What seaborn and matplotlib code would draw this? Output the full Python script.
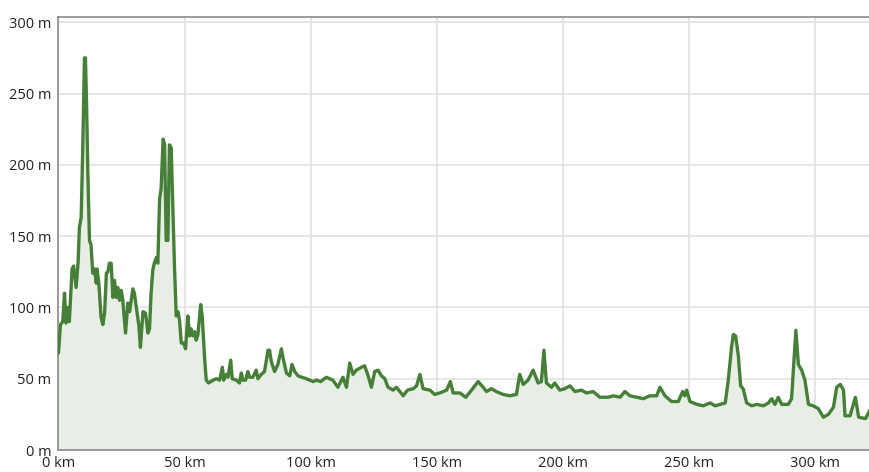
import matplotlib
matplotlib.use("Agg")
import matplotlib.pyplot as plt
from matplotlib.ticker import FuncFormatter
import pandas as pd
import seaborn as sns

## elevation profile
distance_km = [0, 0.8, 1.7, 2.4, 3.0, 3.7, 4.3, 5.4, 6.0, 7.0, 7.8, 8.3, 9.0, 9.7, 10.3, 10.7,
               11.2, 11.6, 12.3, 12.9, 13.6, 14.3, 15.0, 15.3, 16.0, 16.9, 17.6, 18.3, 19.0, 19.6,
               20.2, 20.9, 21.6, 22.2, 22.9, 23.5, 24.2, 24.9, 25.5, 26.6, 27.5, 28.2, 29.5, 30.1,
               30.8, 31.9, 32.5, 33.5, 34.5, 35.5, 36.1, 36.7, 37.4, 38.0, 38.8, 39.4, 40.1, 40.7,
               41.5, 42.1, 42.7, 43.4, 44.0, 44.7, 45.4, 46.0, 46.7, 47.4, 48.0, 48.7, 49.6, 50.4,
               51.3, 52.0, 52.6, 53.3, 54.0, 54.6, 55.3, 56.4, 57.0, 58.0, 58.6, 59.5, 61.3, 62.6,
               63.9, 65.0, 65.5, 66.5, 67.2, 68.3, 68.9, 70.5, 71.8, 72.5, 73.1, 74.2, 75.1, 75.8,
               77.1, 78.4, 79.1, 80.4, 81.7, 83.1, 83.7, 84.4, 85.7, 87.0, 88.4, 89.0, 90.4, 91.7,
               92.6, 93.7, 95.0, 96.5, 98.3, 101.0, 102.3, 104.0, 106.2, 108.8, 110.8, 112.8, 114.2,
               115.5, 116.8, 118.1, 120.1, 121.4, 122.8, 124.1, 125.4, 126.7, 128.1, 129.4, 130.7,
               132.7, 134.0, 135.4, 136.7, 138.4, 140.7, 142.0, 143.3, 144.6, 147.3, 149.2, 151.2,
               153.9, 155.4, 156.5, 159.2, 161.5, 163.8, 166.4, 168.4, 169.7, 171.7, 173.6, 176.3,
               179.0, 181.6, 182.9, 184.3, 186.2, 188.2, 190.2, 191.5, 192.5, 193.5, 195.5, 196.8,
               198.8, 200.8, 202.8, 204.8, 207.4, 209.4, 212.0, 214.7, 218.0, 220.0, 222.7, 224.6,
               226.6, 229.2, 231.9, 234.5, 237.2, 238.5, 240.5, 243.1, 245.8, 247.5, 248.3, 249.1,
               250.4, 253.1, 255.7, 258.4, 260.4, 262.4, 264.4, 265.6, 266.9, 267.6, 268.5, 269.6,
               270.5, 271.5, 272.9, 274.9, 276.9, 279.5, 281.5, 282.8, 284.1, 285.4, 286.8, 289.4,
               290.7, 292.4, 293.4, 294.7, 296.0, 297.4, 299.3, 301.3, 303.3, 305.3, 307.3, 308.6,
               310.0, 311.3, 311.9, 313.9, 316.0, 317.3, 320.0, 321.8]
elevation_m = [68, 88, 90, 110, 89, 100, 90, 127, 129, 114, 132, 156, 163, 217, 275, 275,
               238, 198, 147, 144, 124, 127, 117, 127, 117, 93, 88, 96, 124, 125,
               131, 131, 107, 119, 107, 114, 105, 112, 105, 82, 103, 97, 113, 110,
               101, 87, 72, 97, 96, 82, 85, 109, 126, 131, 135, 131, 176, 183,
               218, 214, 147, 147, 214, 212, 166, 129, 94, 97, 91, 75, 75, 71,
               94, 80, 85, 80, 83, 77, 81, 102, 94, 63, 49, 47, 49, 50,
               49, 58, 49, 53, 51, 63, 50, 49, 47, 54, 49, 49, 55, 51,
               51, 56, 50, 53, 55, 70, 70, 62, 55, 60, 71, 65, 54, 52,
               60, 55, 52, 51, 50, 48, 49, 48, 51, 49, 44, 51, 44,
               61, 53, 56, 58, 59, 52, 44, 55, 56, 52, 50, 44,
               42, 44, 41, 38, 42, 43, 45, 53, 43, 42, 39, 40,
               42, 48, 40, 40, 37, 42, 48, 44, 41, 43, 41, 39,
               38, 39, 53, 46, 49, 56, 47, 48, 70, 47, 44, 47,
               42, 43, 45, 41, 42, 40, 41, 37, 37, 38, 37, 41,
               38, 37, 36, 38, 38, 44, 38, 34, 34, 41, 38, 42,
               34, 32, 31, 33, 31, 32, 33, 49, 72, 81, 80, 66,
               45, 43, 33, 31, 32, 31, 33, 36, 32, 37, 32, 32,
               36, 84, 60, 56, 49, 32, 31, 29, 23, 25, 30, 44,
               46, 42, 24, 24, 37, 23, 22, 28]

y_ticks = [0, 50, 100, 150, 200, 250, 300]
x_ticks = [0, 50, 100, 150, 200, 250, 300]

df = pd.DataFrame({"distance": distance_km, "elevation": elevation_m})

sns.set_style("white")
plt.rcParams['font.family'] = ['Open Sans', 'DejaVu Sans']

fig = plt.figure(figsize=(8.7, 4.72), dpi=100)
ax = fig.add_axes([0.0672, 0.0466, 0.9328, 0.9184])

line_color = "#467f37"
ax.fill_between(df["distance"], df["elevation"], 0, color="#e8ede6", zorder=1, linewidth=0)
sns.lineplot(data=df, x="distance", y="elevation", ax=ax, color=line_color,
             linewidth=2.4, zorder=3)

ax.set_xlim(0, df["distance"].max())
ax.set_ylim(0, 304)
ax.set_xticks(x_ticks)
ax.set_yticks(y_ticks)
ax.xaxis.set_major_formatter(FuncFormatter(lambda v, p: f"{v:g} km"))
ax.yaxis.set_major_formatter(FuncFormatter(lambda v, p: f"{v:g} m"))
ax.set_xlabel("")
ax.set_ylabel("")

## grid
ax.grid(True, color="#e2e2e2", linewidth=1.2, zorder=0)
ax.set_axisbelow(True)

## spines
for side in ["left", "bottom", "top"]:
    ax.spines[side].set_color("#8a8a8a")
    ax.spines[side].set_linewidth(1.2)
ax.spines["right"].set_visible(False)

ax.tick_params(axis="both", length=0, labelsize=10.5, labelcolor="#222222", pad=5)
ax.tick_params(axis="x", pad=4)

fig.savefig("out.png", dpi=100)
